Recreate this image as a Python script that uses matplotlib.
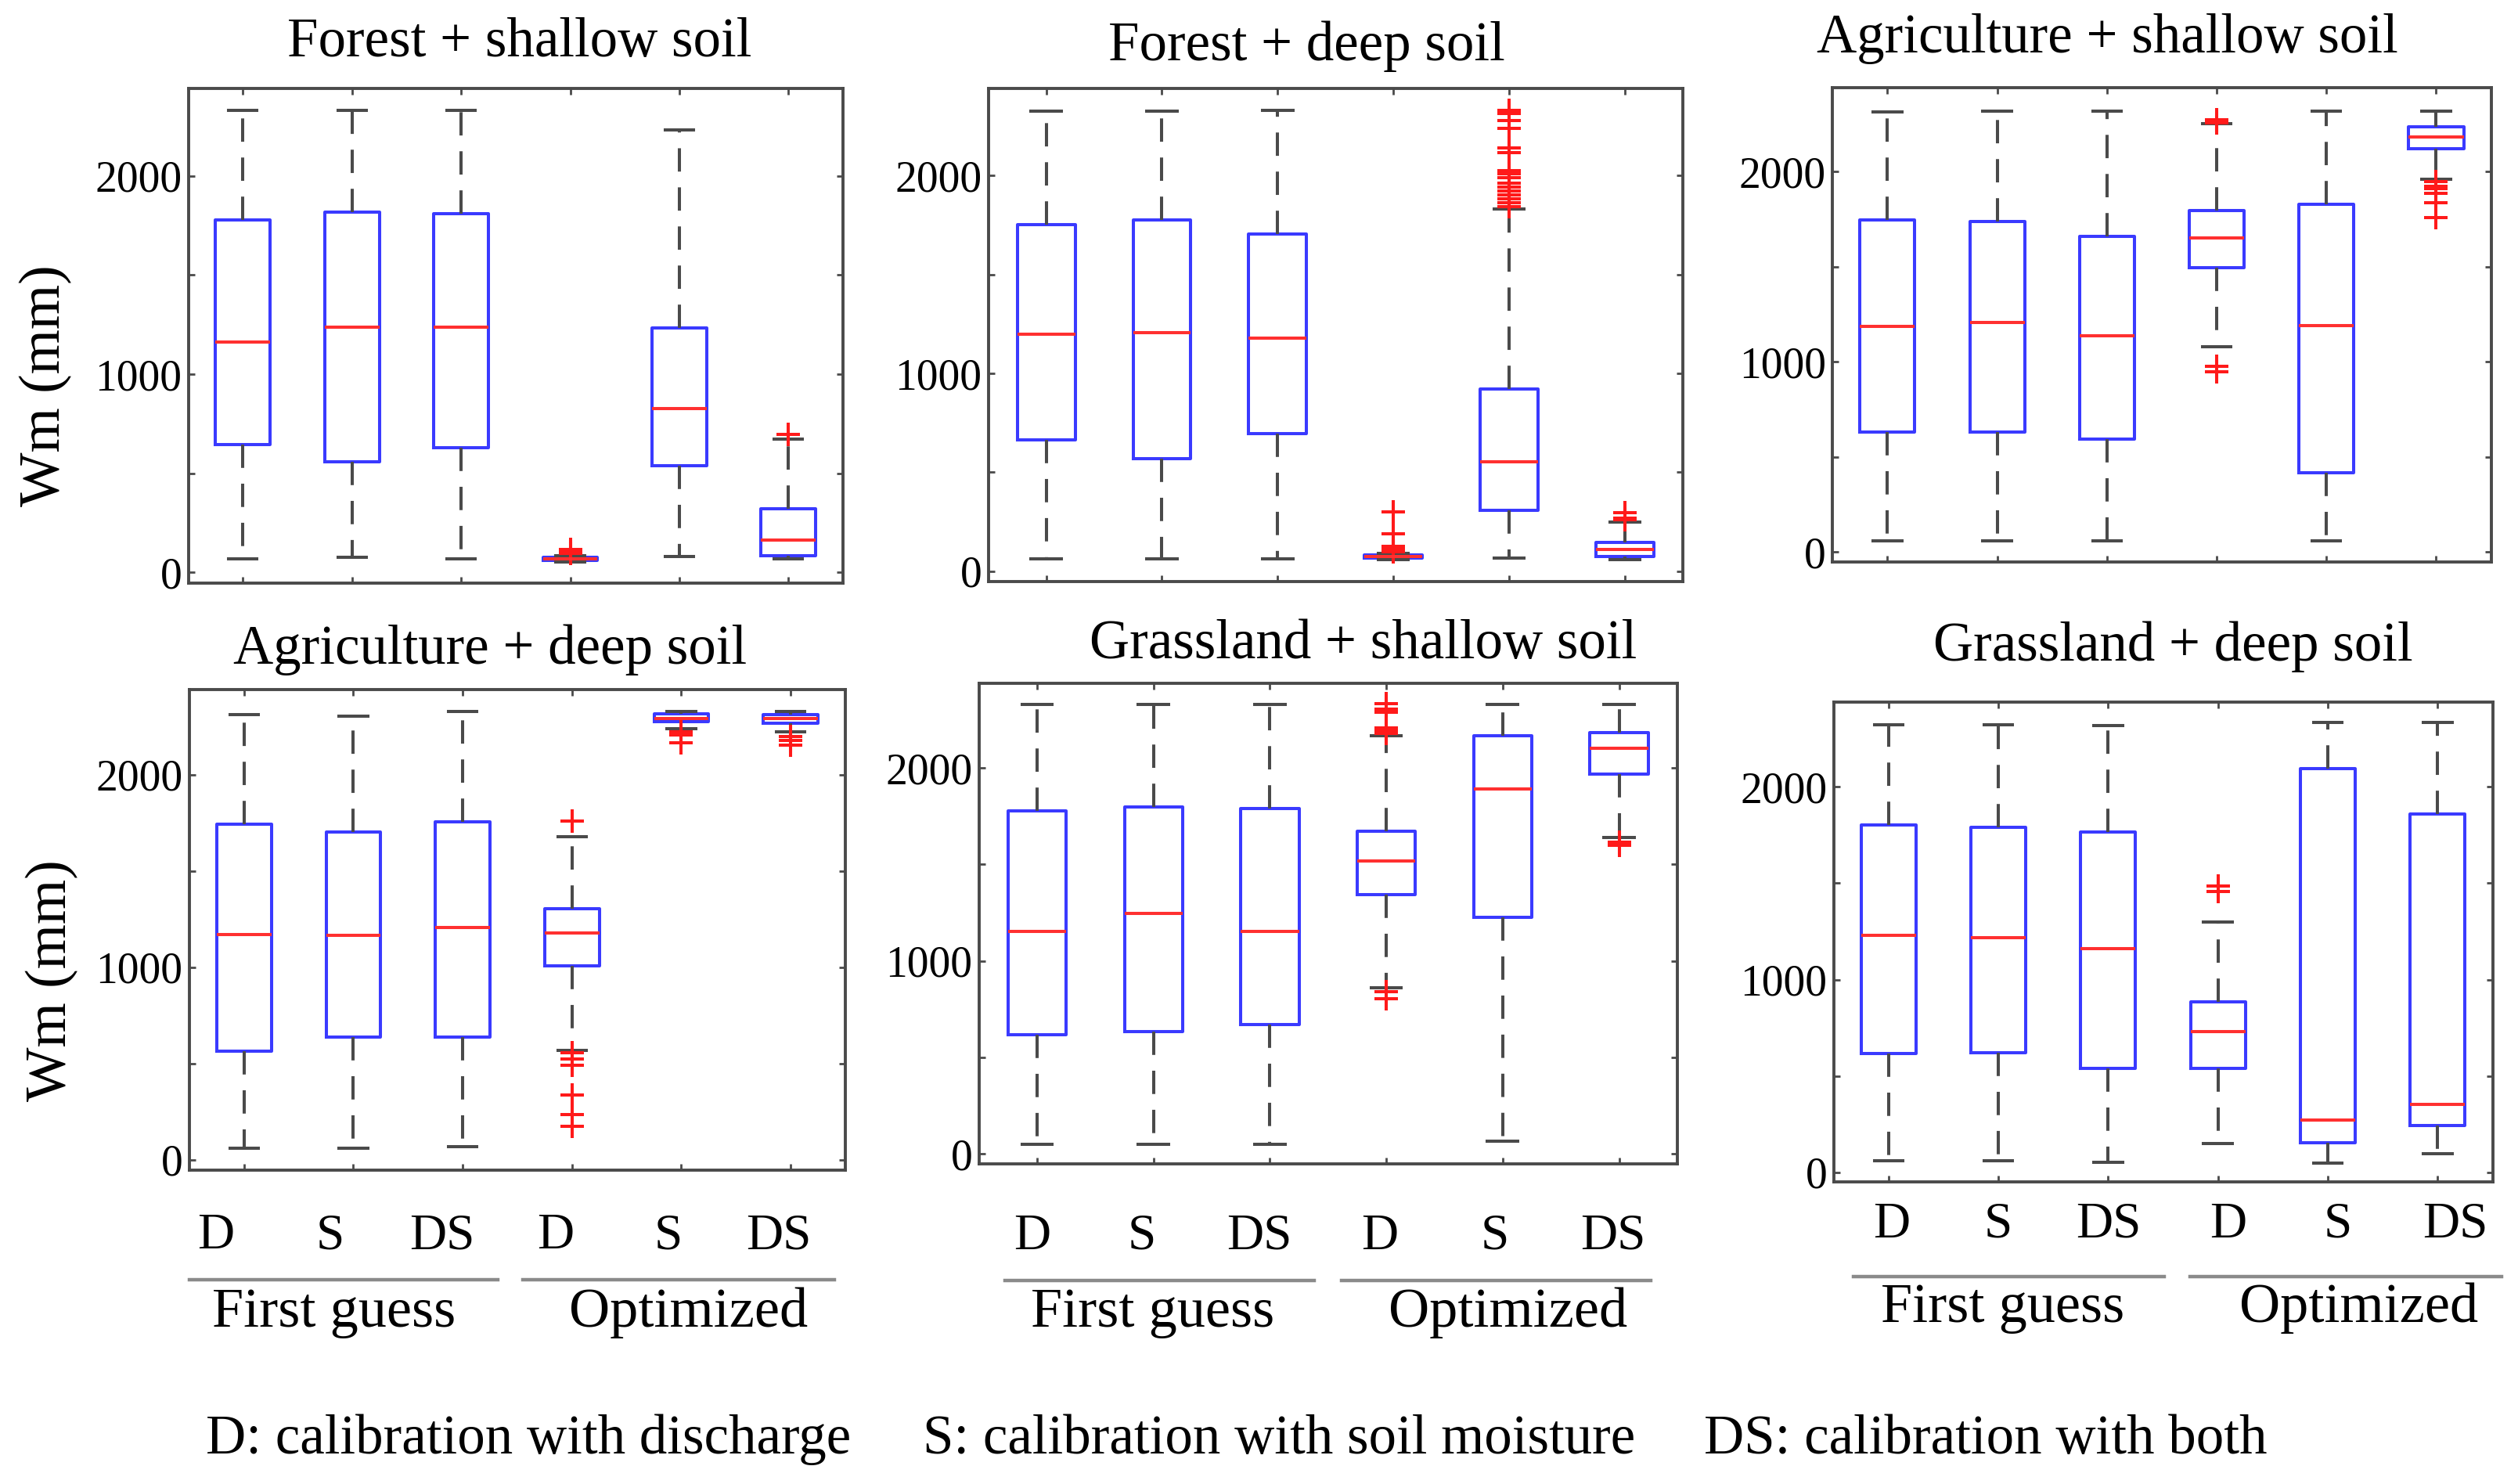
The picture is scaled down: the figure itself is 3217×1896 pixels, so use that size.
import matplotlib
matplotlib.use("Agg")
import matplotlib.pyplot as plt
from matplotlib.lines import Line2D
from matplotlib.transforms import blended_transform_factory

plt.rcParams['font.family'] = ['Liberation Serif', 'DejaVu Serif']

# ---------------- data ----------------
titles = ["Forest + shallow soil", "Forest + deep soil", "Agriculture + shallow soil",
          "Agriculture + deep soil", "Grassland + shallow soil", "Grassland + deep soil"]
box_labels = ["D", "S", "DS", "D", "S", "DS"]
group_names = ["First guess", "Optimized"]
footer_texts = ["D: calibration with discharge", "S: calibration with soil moisture",
                "DS: calibration with both"]
y_label = "Wm (mm)"
y_ticks = [0, 500, 1000, 1500, 2000]
y_ticklabels = ["0", "", "1000", "", "2000"]

# Forest + shallow soil
fs_lo = [67, 75, 70, 52, 82, 67]
fs_q1 = [644, 560, 628, 60, 540, 86]
fs_med = [1162, 1237, 1237, 68, 826, 164]
fs_q3 = [1777, 1818, 1808, 75, 1235, 321]
fs_hi = [2331, 2331, 2331, 85, 2233, 673]
fs_out = [[], [], [], [95, 105, 115], [], [697]]

# Forest + deep soil
fd_lo = [61, 61, 61, 58, 65, 57]
fd_q1 = [665, 567, 695, 65, 307, 75]
fd_med = [1199, 1207, 1179, 72, 553, 110]
fd_q3 = [1752, 1778, 1703, 80, 921, 144]
fd_hi = [2325, 2325, 2329, 88, 1831, 248]
fd_out = [[], [], [],
          [301, 189, 125, 115, 105, 98],
          [2330, 2315, 2280, 2240, 2142, 2118, 2026, 2010, 1990, 1961, 1941, 1921,
           1902, 1882, 1862, 1843],
          [295, 268, 258]]

# Agriculture + shallow soil
as_lo = [57, 57, 57, 1078, 57, 1959]
as_q1 = [629, 629, 592, 1494, 414, 2118]
as_med = [1184, 1208, 1135, 1649, 1190, 2180]
as_q3 = [1745, 1739, 1659, 1796, 1827, 2237]
as_hi = [2312, 2318, 2318, 2251, 2318, 2318]
as_out = [[], [], [], [2271, 2255, 976, 945], [], [1945, 1924, 1910, 1884, 1837, 1757]]

# Agriculture + deep soil
ad_lo = [60, 60, 67, 567, 2238, 2221]
ad_q1 = [564, 636, 636, 1007, 2274, 2267]
ad_med = [1171, 1164, 1207, 1176, 2293, 2290]
ad_q3 = [1743, 1702, 1757, 1305, 2314, 2310]
ad_hi = [2310, 2302, 2329, 1679, 2329, 2329]
ad_out = [[], [], [], [1760, 555, 524, 493, 338, 233, 174], [2221, 2207, 2167],
          [2198, 2179, 2155]]

# Grassland + shallow soil
gs_lo = [50, 50, 50, 859, 67, 1641]
gs_q1 = [617, 634, 672, 1342, 1227, 1969]
gs_med = [1153, 1246, 1153, 1517, 1892, 2103]
gs_q3 = [1778, 1797, 1789, 1672, 2167, 2184]
gs_hi = [2328, 2328, 2328, 2167, 2328, 2328]
gs_out = [[], [], [], [2335, 2304, 2287, 2208, 2191, 2179, 840, 804], [], [1617, 1600]]

# Grassland + deep soil
gd_lo = [58, 58, 50, 149, 46, 94]
gd_q1 = [616, 621, 537, 537, 153, 242]
gd_med = [1228, 1218, 1161, 729, 269, 350]
gd_q3 = [1803, 1789, 1767, 885, 2096, 1861]
gd_hi = [2324, 2324, 2319, 1300, 2336, 2336]
gd_out = [[], [], [], [1484, 1456], [], []]

panels = [
    (fs_lo, fs_q1, fs_med, fs_q3, fs_hi, fs_out),
    (fd_lo, fd_q1, fd_med, fd_q3, fd_hi, fd_out),
    (as_lo, as_q1, as_med, as_q3, as_hi, as_out),
    (ad_lo, ad_q1, ad_med, ad_q3, ad_hi, ad_out),
    (gs_lo, gs_q1, gs_med, gs_q3, gs_hi, gs_out),
    (gd_lo, gd_q1, gd_med, gd_q3, gd_hi, gd_out),
]

# ---------------- layout ----------------
W, H, DPI = 3217, 1896, 200
fig = plt.figure(figsize=(W / DPI, H / DPI), dpi=DPI)

rects = [
    (0.0748, 0.6073, 0.2600, 0.3329),
    (0.3925, 0.6083, 0.2758, 0.3319),
    (0.7278, 0.6215, 0.2615, 0.3193),
    (0.0752, 0.2117, 0.2605, 0.3234),
    (0.3888, 0.2157, 0.2773, 0.3240),
    (0.7282, 0.2034, 0.2617, 0.3234),
]
title_xy = [(0.506, 1.066), (0.458, 1.058), (0.417, 1.075),
            (0.458, 1.055), (0.550, 1.051), (0.515, 1.086)]
ylabel_xy = {0: (-0.218, 0.399), 3: (-0.209, 0.394)}
# bottom-row annotations (axes fractions / data shifts)
label_shift = {3: [-0.26, -0.21, -0.19, -0.15, -0.12, -0.11],
               4: [-0.04, -0.10, -0.09, -0.06, -0.07, -0.05],
               5: [0.03, 0.0, 0.0, 0.09, 0.09, 0.16]}
label_y = {3: -0.164, 4: -0.177, 5: -0.115}
group_lines = {3: [(0.0, 0.47), (0.509, 0.983)],
               4: [(0.037, 0.480), (0.519, 0.962)],
               5: [(0.030, 0.502), (0.541, 1.014)]}
group_line_y = {3: -0.229, 4: -0.242, 5: -0.197}
group_text_x = {3: [0.221, 0.761], 4: [0.249, 0.758], 5: [0.257, 0.797]}
group_text_y = {3: -0.327, 4: -0.339, 5: -0.291}

frame_col = "#4a4a4a"
box_col = "#3a3aff"
med_col = "#ff3030"
whisk_col = "#4a4a4a"
lw = 1.45

for k, (lo, q1, med, q3, hi, out) in enumerate(panels):
    ax = fig.add_axes(rects[k])
    stats = []
    for i in range(len(med)):
        stats.append(dict(whislo=lo[i], q1=q1[i], med=med[i], q3=q3[i],
                          whishi=hi[i], fliers=out[i]))
    positions = list(range(1, len(med) + 1))
    ax.bxp(stats, positions=positions, widths=0.5, capwidths=0.26,
           boxprops=dict(color=box_col, linewidth=lw),
           medianprops=dict(color=med_col, linewidth=lw),
           whiskerprops=dict(color=whisk_col, linewidth=lw,
                             linestyle=(0, (7.4, 5.0))),
           capprops=dict(color=whisk_col, linewidth=lw),
           flierprops=dict(marker="+", markeredgecolor="#ff1a1a",
                           markersize=10.8, markeredgewidth=1.45, linestyle="none"),
           manage_ticks=False)
    ax.set_xlim(0.5, 6.5)
    ax.set_ylim(-52, 2440)
    ax.set_yticks(y_ticks)
    ax.set_yticklabels(y_ticklabels)
    ax.set_xticks(positions)
    ax.set_xticklabels([])
    ax.tick_params(axis="both", direction="in", length=3.0, width=1.0,
                   color=frame_col, top=True, right=True, labelsize=20, pad=3)
    for sp in ax.spines.values():
        sp.set_color(frame_col)
        sp.set_linewidth(1.4)

    ax.text(title_xy[k][0], title_xy[k][1], titles[k], transform=ax.transAxes,
            ha="center", va="baseline", fontsize=25.5)

    if k in ylabel_xy:
        ax.text(ylabel_xy[k][0], ylabel_xy[k][1], y_label, transform=ax.transAxes,
                rotation=90, ha="center", va="center", fontsize=26.5)

    if k in label_shift:
        tr = blended_transform_factory(ax.transData, ax.transAxes)
        for i, lab in enumerate(box_labels):
            ax.text(positions[i] + label_shift[k][i], label_y[k], lab, transform=tr,
                    ha="center", va="baseline", fontsize=23.5, clip_on=False)
        for (x0, x1) in group_lines[k]:
            ax.add_line(Line2D([x0, x1], [group_line_y[k]] * 2, transform=ax.transAxes,
                               color="#8a8a8a", linewidth=1.6, clip_on=False))
        for gx, gname in zip(group_text_x[k], group_names):
            ax.text(gx, group_text_y[k], gname, transform=ax.transAxes,
                    ha="center", va="baseline", fontsize=26, clip_on=False)

footer_x = [263 / W, 1179 / W, 2177 / W]
for fx, ft in zip(footer_x, footer_texts):
    fig.text(fx, 0.0206, ft, ha="left", va="baseline", fontsize=25.5)

fig.savefig("out.png", dpi=DPI, facecolor="white")
